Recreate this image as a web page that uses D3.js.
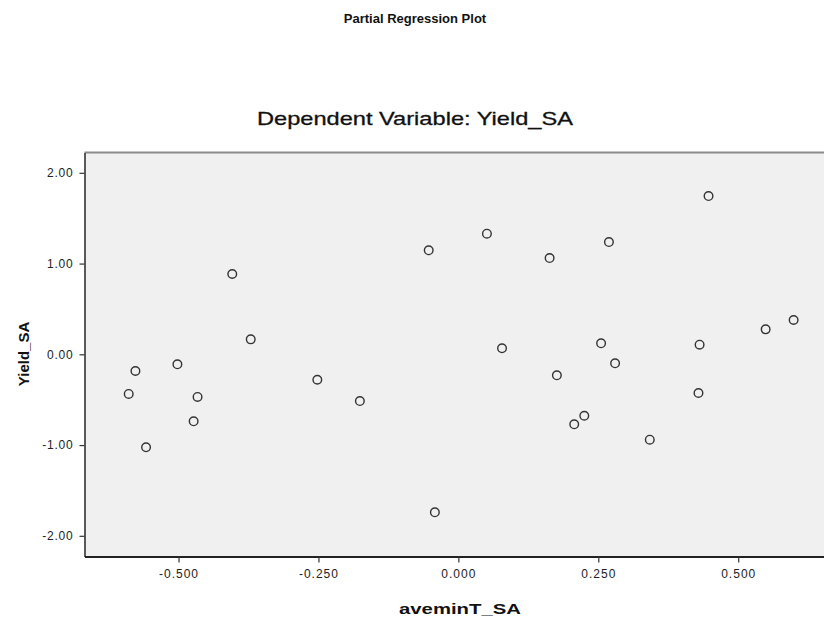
<!DOCTYPE html>
<html>
<head>
<meta charset="utf-8">
<script src="https://cdn.jsdelivr.net/npm/d3@7/dist/d3.min.js"></script>
<style>
  body { margin: 0; background: #fff; }
  svg { display: block; font-family: "Liberation Sans", Arial, sans-serif; }
</style>
</head>
<body>
<div id="chart"></div>
<script>
//Width and height of the page
var w = 824;
var h = 626;

//partial residuals
var xValues = [-0.589, -0.577, -0.558, -0.502, -0.473, -0.466, -0.404, -0.371, -0.252, -0.176,
  -0.042, -0.053, 0.051, 0.078, 0.163, 0.176, 0.207, 0.225, 0.255, 0.269,
  0.280, 0.342, 0.429, 0.431, 0.447, 0.549, 0.599
];
var yValues = [-0.437, -0.184, -1.025, -0.110, -0.738, -0.470, 0.885, 0.165, -0.280, -0.515,
  -1.741, 1.146, 1.329, 0.066, 1.061, -0.231, -0.771, -0.677, 0.121, 1.237,
  -0.099, -0.941, -0.426, 0.106, 1.744, 0.275, 0.378
];

var xTicks = [-0.5, -0.25, 0, 0.25, 0.5];
var yTicks = [-2, -1, 0, 1, 2];

//plot area (not "top": that name belongs to window)
var plotLeft = 84.5, plotRight = 830, plotTop = 152.5, plotBottom = 556.5;

var svg = d3.select("#chart")
  .append("svg")
  .attr("width", w)
  .attr("height", h);

var x = d3.scaleLinear().domain([-0.668, 0.664]).range([plotLeft, plotRight]);
var y = d3.scaleLinear().domain([-2.228, 2.224]).range([plotBottom, plotTop]);

//grey panel
svg.append("rect")
  .attr("x", plotLeft)
  .attr("y", plotTop)
  .attr("width", plotRight - plotLeft)
  .attr("height", plotBottom - plotTop)
  .attr("fill", "#f0f0f0");

//top border
svg.append("line")
  .attr("x1", plotLeft).attr("x2", w)
  .attr("y1", plotTop).attr("y2", plotTop)
  .attr("stroke", "#8a8a8a")
  .attr("stroke-width", 2);

//axes
var yAxis = svg.append("g")
  .attr("transform", "translate(" + plotLeft + ",0)")
  .call(d3.axisLeft(y)
    .tickValues(yTicks)
    .tickSize(5)
    .tickSizeOuter(0)
    .tickPadding(6)
    .tickFormat(function(d) { return d.toFixed(2); }));

var xAxis = svg.append("g")
  .attr("transform", "translate(0," + plotBottom + ")")
  .call(d3.axisBottom(x)
    .tickValues(xTicks)
    .tickSize(6)
    .tickSizeOuter(0)
    .tickPadding(7)
    .tickFormat(function(d) { return d.toFixed(3); }));

yAxis.select(".domain").attr("stroke", "#333").attr("stroke-width", 1.6);
xAxis.select(".domain").attr("stroke", "#222").attr("stroke-width", 2);
svg.selectAll(".tick line").attr("stroke", "#333").attr("stroke-width", 1.2);
svg.selectAll(".tick text")
  .attr("font-family", "Liberation Sans, Arial, sans-serif")
  .attr("font-size", "12px")
  .attr("fill", "#222");
yAxis.selectAll(".tick text").attr("letter-spacing", "0.8px");
xAxis.selectAll(".tick text").attr("letter-spacing", "1px");

//points
svg.selectAll("circle.pt")
  .data(xValues)
  .enter()
  .append("circle")
  .attr("class", "pt")
  .attr("cx", function(d) { return x(d); })
  .attr("cy", function(d, i) { return y(yValues[i]); })
  .attr("r", 4.3)
  .attr("fill", "none")
  .attr("stroke", "#333")
  .attr("stroke-width", 1.4);

//titles
svg.append("text")
  .text("Partial Regression Plot")
  .attr("x", 415)
  .attr("y", 23)
  .attr("text-anchor", "middle")
  .attr("font-size", "13px")
  .attr("font-weight", "bold")
  .attr("fill", "#111");

svg.append("text")
  .text("Dependent Variable: Yield_SA")
  .attr("x", 257)
  .attr("y", 125)
  .attr("textLength", 316)
  .attr("lengthAdjust", "spacingAndGlyphs")
  .attr("font-size", "19px")
  .attr("stroke", "#111")
  .attr("stroke-width", 0.3)
  .attr("fill", "#111");

svg.append("text")
  .text("aveminT_SA")
  .attr("x", 399)
  .attr("y", 614)
  .attr("textLength", 122)
  .attr("lengthAdjust", "spacingAndGlyphs")
  .attr("font-size", "15px")
  .attr("font-weight", "bold")
  .attr("fill", "#111");

svg.append("text")
  .text("Yield_SA")
  .attr("transform", "translate(29,354) rotate(-90)")
  .attr("text-anchor", "middle")
  .attr("font-size", "15px")
  .attr("font-weight", "bold")
  .attr("fill", "#111");
</script>
</body>
</html>
